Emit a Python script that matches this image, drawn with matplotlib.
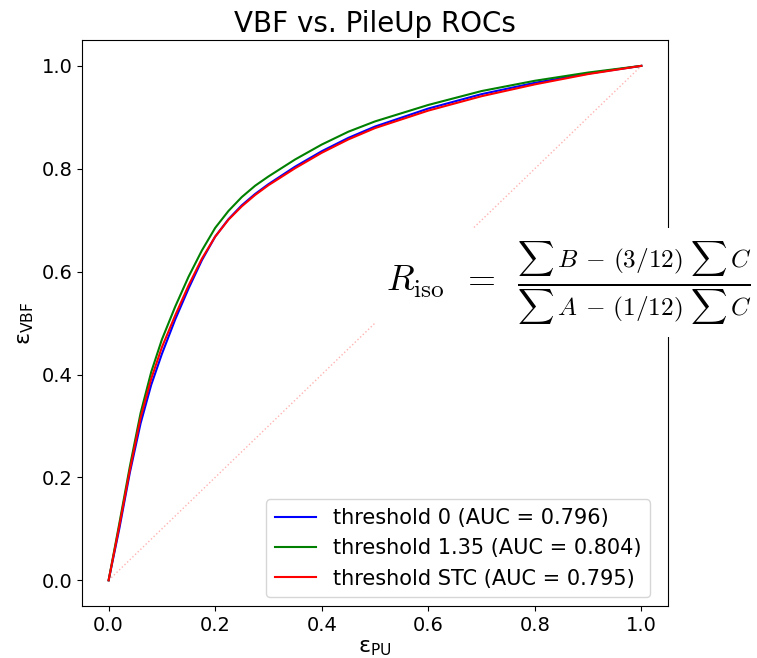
import matplotlib
matplotlib.use("Agg")
import matplotlib.pyplot as plt

fpr = [0.0, 0.02, 0.04, 0.06, 0.08, 0.10, 0.125, 0.15, 0.175, 0.2, 0.225, 0.25, 0.275, 0.3,
       0.35, 0.4, 0.45, 0.5, 0.6, 0.7, 0.8, 0.9, 1.0]
tpr_thr0 = [0.0, 0.10, 0.21, 0.305, 0.38, 0.44, 0.507, 0.567, 0.622, 0.668, 0.702, 0.729, 0.751, 0.77,
            0.804, 0.834, 0.86, 0.882, 0.917, 0.945, 0.967, 0.985, 1.0]
tpr_thr135 = [0.0, 0.11, 0.222, 0.325, 0.405, 0.468, 0.532, 0.59, 0.641, 0.685, 0.718, 0.745, 0.767, 0.785,
              0.818, 0.847, 0.872, 0.892, 0.924, 0.951, 0.971, 0.987, 1.0]
tpr_stc = [0.0, 0.105, 0.215, 0.316, 0.392, 0.453, 0.515, 0.573, 0.625, 0.668, 0.701, 0.727, 0.749, 0.768,
           0.801, 0.831, 0.857, 0.879, 0.913, 0.941, 0.964, 0.984, 1.0]
labels = ["threshold 0 (AUC = 0.796)", "threshold 1.35 (AUC = 0.804)",
          "threshold STC (AUC = 0.795)"]
colors = ["blue", "green", "red"]

fig = plt.figure(figsize=(7.57, 6.58), dpi=100)
ax = fig.add_axes([0.1083, 0.079, 0.7741, 0.860])

ax.plot([0, 1], [0, 1], linestyle=":", color="red", alpha=0.3, lw=1)
for y, lab, c in zip([tpr_thr0, tpr_thr135, tpr_stc], labels, colors):
    ax.plot(fpr, y, color=c, lw=1.5, label=lab)

ax.set_title("VBF vs. PileUp ROCs", fontsize=20)
ax.set_xlabel(r"$\mathrm{\varepsilon_{PU}}$", fontsize=16, labelpad=2)
ax.set_ylabel(r"$\mathrm{\varepsilon_{VBF}}$", fontsize=16)
ax.tick_params(labelsize=14)
ax.set_xticks([0.0, 0.2, 0.4, 0.6, 0.8, 1.0])
ax.set_yticks([0.0, 0.2, 0.4, 0.6, 0.8, 1.0])
ax.legend(loc="lower right", fontsize=15, bbox_to_anchor=(0.969, 0.016),
          borderaxespad=0)

fig.text(0.51, 0.57,
         r"$R_{\mathrm{iso}}\ \,=\ \,\frac{\sum\, B\, -\, (3/12)\ \sum\, C}{\sum\, A\, -\, (1/12)\ \sum\, C}$",
         fontsize=26, math_fontfamily="cm", va="center", ha="left",
         bbox=dict(facecolor="white", edgecolor="none", pad=8))

fig.savefig("out.png", dpi=100)
